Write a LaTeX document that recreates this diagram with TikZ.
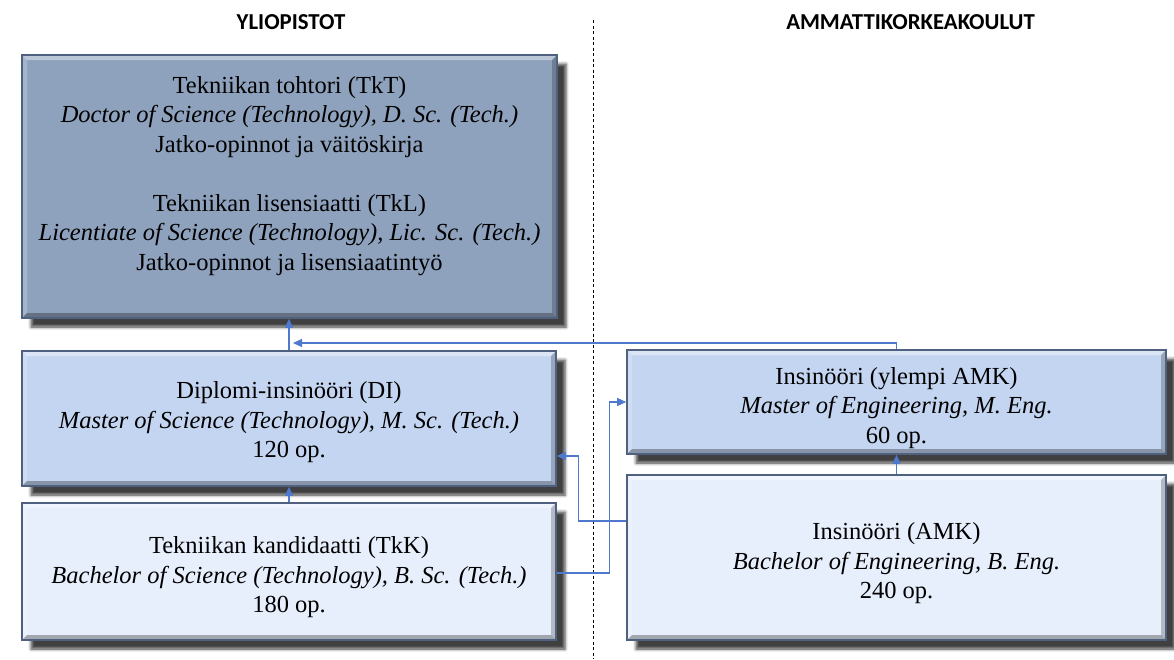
\documentclass[tikz,border=0pt]{standalone}
\usepackage{fontspec}
\setmainfont{Liberation Serif}
\newfontfamily\hdrfont{Carlito}
\usetikzlibrary{arrows.meta,shadows.blur}
\definecolor{darkfill}{RGB}{142,162,189}
\definecolor{midfill}{RGB}{196,213,241}
\definecolor{lightfill}{RGB}{231,239,252}
\definecolor{boxborder}{RGB}{80,97,128}
\definecolor{connc}{RGB}{78,121,204}
\newcommand\firstlift[1]{\rule{0pt}{#1}}
\tikzset{
  box/.style={draw=boxborder, line width=1.6pt, align=center, inner sep=0pt,
    font=\fontsize{24.5}{29.5}\selectfont,
    blur shadow={shadow xshift=9pt, shadow yshift=-9pt, shadow blur radius=3pt, shadow opacity=75},
    path picture={
      \fill[white,opacity=0.4] (path picture bounding box.north west) -- (path picture bounding box.north east)
        -- ([xshift=-5pt,yshift=-5pt]path picture bounding box.north east) -- ([xshift=5pt,yshift=-5pt]path picture bounding box.north west) -- cycle;
      \fill[white,opacity=0.2] (path picture bounding box.north west) -- (path picture bounding box.south west)
        -- ([xshift=5pt,yshift=5pt]path picture bounding box.south west) -- ([xshift=5pt,yshift=-5pt]path picture bounding box.north west) -- cycle;
      \fill[black,opacity=0.22] (path picture bounding box.north east) -- (path picture bounding box.south east)
        -- ([xshift=-5pt,yshift=5pt]path picture bounding box.south east) -- ([xshift=-5pt,yshift=-5pt]path picture bounding box.north east) -- cycle;
      \fill[black,opacity=0.3] (path picture bounding box.south west) -- (path picture bounding box.south east)
        -- ([xshift=-5pt,yshift=5pt]path picture bounding box.south east) -- ([xshift=5pt,yshift=5pt]path picture bounding box.south west) -- cycle;
    }},
  hdr/.style={font=\hdrfont\bfseries\fontsize{22.8}{26}\selectfont},
  conn/.style={draw=connc, line width=1.1pt, -{Triangle[length=9pt,width=8pt]}},
  sep/.style={draw=black, line width=0.9pt, dash pattern=on 3pt off 2.5pt}
}
\begin{document}
\begin{tikzpicture}[x=1pt,y=-1pt]
\useasboundingbox (0,0) rectangle (1174,659);
% separator
\coordinate (d1) at (593,20);
\coordinate (d2) at (593,659);
\draw[sep] (d1) -- (d2);
% headers
\node[hdr] (h1) at (291,22) {YLIOPISTOT};
\node[hdr] (h2) at (910.5,22) {AMMATTIKORKEAKOULUT};
% boxes
\node[box, fill=darkfill, minimum width=535pt, minimum height=263pt] (tkt) at (289.5,186.5)
 {\firstlift{19.5pt}Tekniikan tohtori (TkT)\\ \textit{Doctor of Science (Technology), D. Sc. (Tech.)}\\ Jatko-opinnot ja väitöskirja\\ \mbox{}\\ Tekniikan lisensiaatti (TkL)\\ \textit{Licentiate of Science (Technology), Lic. Sc. (Tech.)}\\ Jatko-opinnot ja lisensiaatintyö\\ \mbox{}};
\node[box, fill=midfill, minimum width=534pt, minimum height=135pt] (di) at (289,418.5)
 {\firstlift{24.5pt}Diplomi-insinööri (DI)\\ \textit{Master of Science (Technology), M. Sc. (Tech.)}\\ 120 op.};
\node[box, fill=lightfill, minimum width=534pt, minimum height=137pt] (tkk) at (289,571.5)
 {\firstlift{28.5pt}Tekniikan kandidaatti (TkK)\\ \textit{Bachelor of Science (Technology), B. Sc. (Tech.)}\\ 180 op.};
\node[box, fill=midfill, minimum width=539pt, minimum height=104pt] (yamk) at (896.5,402)
 {\firstlift{28.5pt}Insinööri (ylempi AMK)\\ \textit{Master of Engineering, M. Eng.}\\ 60 op.};
\node[box, fill=lightfill, minimum width=539pt, minimum height=165pt] (amk) at (896.5,557.5)
 {\firstlift{28.5pt}Insinööri (AMK)\\ \textit{Bachelor of Engineering, B. Eng.}\\ 240 op.};
% connectors
\coordinate (m1) at (293,343);
\draw[conn] (di.north) -- (di.north |- tkt.south);
\draw[conn] (yamk.north) |- (m1);
\draw[conn] (tkk.north) -- (di.south);
\draw[conn] (amk.north) -- (yamk.south);
\draw[conn] ([yshift=36.5pt]amk.west) -- ++(-48,0) |- ([yshift=-37.5pt]di.east);
\draw[conn] ([yshift=-1.5pt]tkk.east) -- ++(53,0) |- (yamk.west);
\end{tikzpicture}
\end{document}
